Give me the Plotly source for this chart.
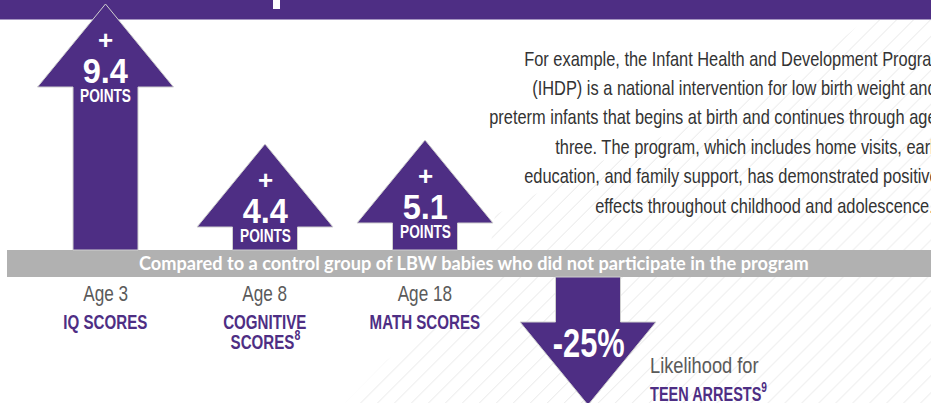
import plotly.graph_objects as go

# ---------------- data ----------------
ages = ["Age 3", "Age 8", "Age 18"]
outcomes = [["IQ SCORES"], ["COGNITIVE", "SCORES<sup>8</sup>"], ["MATH SCORES"]]
gains = [9.4, 4.4, 5.1]
gain_unit = "POINTS"
arrest_change = -25
arrest_label = ["Likelihood for", "TEEN ARRESTS<sup>9</sup>"]
band_text = "Compared to a control group of LBW babies who did not participate in the program"
paragraph = [
    "For example, the Infant Health and Development Program",
    "(IHDP) is a national intervention for low birth weight and",
    "preterm infants that begins at birth and continues through age",
    "three. The program, which includes home visits, early",
    "education, and family support, has demonstrated positive",
    "effects throughout childhood and adolescence.",
]

# ---------------- layout / style ----------------
W, H = 931, 403
PURPLE = "#4E2E84"
BAND = "#B1B1B1"
GREY_TXT = "#5A5A5A"
DARK_TXT = "#333333"
OUTLINE = "#CFCFCF"
SANS = "Lato, 'Open Sans', sans-serif"

ARROW_X = [105.5, 265, 425]
ARROW_TIP = [4, 144, 140]
BAND_TOP, BAND_BOT = 250, 277
HEAD_W, BODY_W, HEAD_H = 136, 65, 83
DOWN_X = 588
PARA_X = [522, 530, 487, 553, 522, 593]
PARA_Y0, PARA_DY = 58, 29.4


def cond(scale, anchor):
    # Liberation Sans, horizontally condensed by the post script (tag read in JS)
    return f"'Liberation Sans', sx{int(round(scale * 100))}{anchor}, sans-serif"


def arrow_poly(cx, tip, base, up=True):
    s = 1 if up else -1
    sh = tip + s * HEAD_H
    xs = [cx, cx + HEAD_W / 2, cx + BODY_W / 2, cx + BODY_W / 2,
          cx - BODY_W / 2, cx - BODY_W / 2, cx - HEAD_W / 2, cx]
    ys = [tip, sh, sh, base, base, sh, sh, tip]
    return xs, ys


fig = go.Figure()

# hatched background region
hx = [865, 931, 931, 345, 387, 417, 467, 490, 490, 495, 597, 720, 813, 865]
hy = [20, 20, 403, 403, 360, 340, 307, 280, 250, 215, 163, 113, 63, 20]
fig.add_trace(go.Scatter(
    x=hx, y=hy, mode="lines", fill="toself", line=dict(width=0),
    fillcolor="rgba(0,0,0,0)",
    fillpattern=dict(shape="/", size=12, solidity=0.08, fgcolor="#CDCDCD", bgcolor="white"),
    hoverinfo="skip", showlegend=False))

# grey band
fig.add_trace(go.Scatter(
    x=[7, W, W, 7, 7], y=[BAND_TOP, BAND_TOP, BAND_BOT, BAND_BOT, BAND_TOP],
    mode="lines", fill="toself", fillcolor=BAND, line=dict(width=0),
    hoverinfo="skip", showlegend=False))

# up arrows
for cx, tip in zip(ARROW_X, ARROW_TIP):
    xs, ys = arrow_poly(cx, tip, BAND_TOP, True)
    fig.add_trace(go.Scatter(
        x=xs, y=ys, mode="lines", fill="toself", fillcolor=PURPLE,
        line=dict(color=OUTLINE, width=1), hoverinfo="skip", showlegend=False))

# down arrow
xs, ys = arrow_poly(DOWN_X, 405, BAND_BOT, False)
fig.add_trace(go.Scatter(
    x=xs, y=ys, mode="lines", fill="toself", fillcolor=PURPLE,
    line=dict(color=OUTLINE, width=1), hoverinfo="skip", showlegend=False))

ann = []


def txt(x, y, t, size, color, family, bold=False, xanchor="center"):
    ann.append(dict(x=x, y=y, text=t, showarrow=False, xanchor=xanchor, yanchor="middle",
                    font=dict(size=size, color=color, family=family,
                              weight="bold" if bold else "normal")))


for cx, tip, g, age, lines in zip(ARROW_X, ARROW_TIP, gains, ages, outcomes):
    txt(cx, tip + 36, "+", 26, "white", cond(1.0, "c"), bold=True)
    txt(cx, tip + 66, f"{g:.1f}", 35, "white", cond(0.93, "c"), bold=True)
    txt(cx, tip + 92, gain_unit, 18, "white", cond(0.76, "c"), bold=True)
    txt(cx, 293.5, age, 22, GREY_TXT, cond(0.78, "c"))
    for i, ln in enumerate(lines):
        txt(cx, 321.5 + 18.5 * i, ln, 21, PURPLE, cond(0.72, "c"), bold=True)

txt(DOWN_X, 343, f"{arrest_change}%", 40, "white", cond(0.77, "c"), bold=True)
txt(648, 365.5, arrest_label[0], 22, GREY_TXT, cond(0.83, "l"), xanchor="left")
txt(648, 391.5, arrest_label[1], 21, PURPLE, cond(0.69, "l"), bold=True, xanchor="left")

txt(473.5, 262.5, band_text, 18.2, "white", SANS, bold=True)

for i, (x0, ln) in enumerate(zip(PARA_X, paragraph)):
    txt(x0, PARA_Y0 + PARA_DY * i, ln, 20.5, DARK_TXT, cond(0.8, "l"), xanchor="left")

fig.update_layout(
    width=W, height=H, margin=dict(l=0, r=0, t=0, b=0),
    paper_bgcolor="white", plot_bgcolor="white",
    xaxis=dict(range=[0, W], visible=False, fixedrange=True),
    yaxis=dict(range=[H, 0], visible=False, fixedrange=True),
    annotations=ann,
    shapes=[
        dict(type="rect", x0=0, x1=W, y0=0, y1=19.5, fillcolor=PURPLE, line_width=0, layer="below"),
        dict(type="rect", x0=273, x1=280, y0=0, y1=9, fillcolor="white", line_width=0, layer="below"),
    ],
    showlegend=False,
    hovermode=False,
)

POST = """
(function(){
  document.body.style.margin = '0';
  var gd = document.getElementById('{plot_id}');
  function squeeze(){
    var els = gd.querySelectorAll('text.annotation-text');
    els.forEach(function(el){
      var ff = (el.style && el.style.fontFamily) || el.getAttribute('style') || '';
      var m = ff.match(/sx(\\d+)([lc])/);
      if(!m) return;
      var s = parseInt(m[1], 10) / 100;
      var b = el.getBBox();
      var cx = (m[2] === 'l') ? b.x : b.x + b.width / 2;
      el.setAttribute('transform', 'matrix(' + s + ',0,0,1,' + (cx * (1 - s)) + ',0)');
    });
  }
  squeeze();
  if (gd.on) { gd.on('plotly_afterplot', squeeze); }
  setTimeout(squeeze, 30);
  setTimeout(squeeze, 300);
})();
"""

fig.write_html("out.html", post_script=POST, config={"displayModeBar": False, "staticPlot": True})
